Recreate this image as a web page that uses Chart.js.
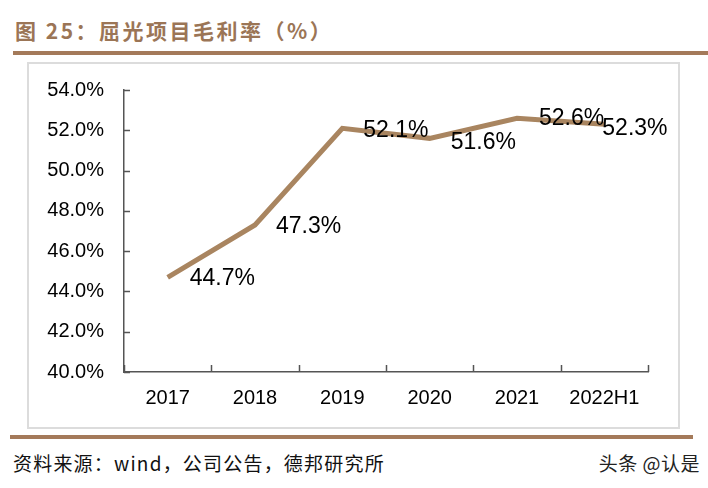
<!DOCTYPE html>
<html>
<head>
<meta charset="utf-8">
<script src="https://cdn.jsdelivr.net/npm/chart.js@4"></script>
<style>
  body { margin: 0; width: 708px; height: 488px; background: #fff; position: relative; overflow: hidden; }
  #title { position: absolute; left: 15px; top: 15px; font: bold 21px "Noto Sans CJK SC", sans-serif; color: #9b7556; letter-spacing: 2.5px; }
  .rule { position: absolute; height: 4px; background: #a47a5a; }
  #frame { position: absolute; left: 27px; top: 62px; width: 649px; height: 363px; border: 2px solid #dcdcdc; }
  #wrap { position: absolute; left: 0; top: 0; width: 708px; height: 488px; }
  #source { position: absolute; left: 13px; top: 449px; font: 19px "Noto Sans CJK SC", sans-serif; color: #111; letter-spacing: 1.2px; }
  #mark { position: absolute; right: 8px; top: 449px; font: 19px "Noto Sans CJK SC", sans-serif; color: #222; letter-spacing: 0.5px; }
</style>
</head>
<body>
<div id="title">图 25：屈光项目毛利率（%）</div>
<div class="rule" style="left:13px; top:51px; width:695px;"></div>
<div id="frame"></div>
<div class="rule" style="left:10px; top:435px; width:683px;"></div>
<div id="source">资料来源：wind，公司公告，德邦研究所</div>
<div id="mark">头条 @认是</div>
<div id="wrap"><canvas id="grafikMargin"></canvas></div>
<script>
const kategori = ["2017", "2018", "2019", "2020", "2021", "2022H1"];
const marginLaba = [44.7, 47.3, 52.1, 51.6, 52.6, 52.3];
const labelTeks = ["44.7%", "47.3%", "52.1%", "51.6%", "52.6%", "52.3%"];
const tickY = [40, 42, 44, 46, 48, 50, 52, 54];

// geser label per titik (dx, dy)
const geserLabel = [[22, 1], [21, 2], [21, 2], [21, 4], [22, 0], [-2, 4]];

const tickDalam = {
  id: "tickDalam",
  afterDraw(chart) {
    const ctx = chart.ctx;
    const sx = chart.scales.x;
    const sy = chart.scales.y;
    const area = chart.chartArea;
    ctx.save();
    ctx.strokeStyle = "#555";
    ctx.lineWidth = 1.5;
    ctx.beginPath();
    tickY.forEach((v) => {
      const y = Math.round(sy.getPixelForValue(v)) + 0.5;
      ctx.moveTo(area.left, y);
      ctx.lineTo(area.left + 6, y);
    });
    const lebar = (area.right - area.left) / kategori.length;
    for (let i = 0; i <= kategori.length; i++) {
      const x = Math.round(sx.getPixelForValue(0) - lebar / 2 + i * lebar) + 0.5;
      ctx.moveTo(x, area.bottom);
      ctx.lineTo(x, area.bottom - 7);
    }
    ctx.stroke();

    ctx.fillStyle = "#000";
    ctx.font = "23px 'Liberation Sans', Arial, sans-serif";
    ctx.textAlign = "left";
    ctx.textBaseline = "middle";
    const meta = chart.getDatasetMeta(0);
    meta.data.forEach((pt, i) => {
      ctx.fillText(labelTeks[i], pt.x + geserLabel[i][0], pt.y + geserLabel[i][1]);
    });
    ctx.restore();
  },
};

const grafik = new Chart(document.getElementById("grafikMargin").getContext("2d"), {
  type: "line",
  data: {
    labels: kategori,
    datasets: [
      {
        label: "毛利率",
        data: marginLaba,
        borderColor: "#a98560",
        borderWidth: 5,
        pointRadius: 0,
        tension: 0,
        borderCapStyle: "butt",
      },
    ],
  },
  options: {
    responsive: true,
    maintainAspectRatio: false,
    animation: false,
    layout: { padding: { top: 90, right: 60, bottom: 0, left: 0 } },
    plugins: { legend: { display: false }, tooltip: { enabled: false } },
    scales: {
      x: {
        offset: true,
        grid: { display: false, drawTicks: false },
        border: { color: "#555", width: 1.5 },
        ticks: {
          color: "#000",
          padding: 14,
          maxRotation: 0,
          font: { family: "'Liberation Sans', Arial, sans-serif", size: 20 },
        },
        afterFit: (s) => { s.height = 116; },
      },
      y: {
        min: 40,
        max: 54,
        afterBuildTicks: (s) => { s.ticks = tickY.map((v) => ({ value: v })); },
        grid: { display: false, drawTicks: false },
        border: { color: "#555", width: 1.5 },
        ticks: {
          color: "#000",
          padding: 20,
          font: { family: "'Liberation Sans', Arial, sans-serif", size: 20 },
          callback: (v) => Number(v).toFixed(1) + "%",
        },
        afterFit: (s) => { s.width = 124; },
      },
    },
  },
  plugins: [tickDalam],
});
</script>
</body>
</html>
